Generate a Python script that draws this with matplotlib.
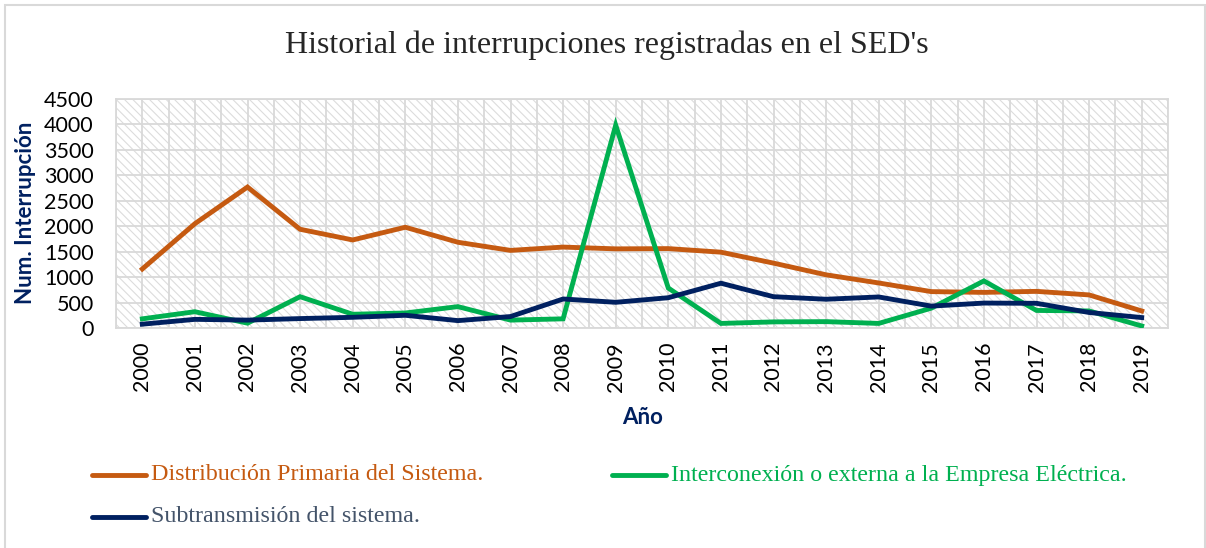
import matplotlib
matplotlib.use("Agg")
import matplotlib.pyplot as plt
from matplotlib.patches import Rectangle
from matplotlib.lines import Line2D

years = [str(y) for y in range(2000, 2020)]
distribucion = [1160, 2050, 2770, 1940, 1730, 1980, 1685, 1525, 1590, 1555,
                1560, 1490, 1275, 1045, 885, 715, 700, 720, 650, 335]
interconexion = [180, 320, 95, 615, 270, 295, 420, 155, 180, 3985,
                 785, 90, 120, 125, 90, 390, 925, 345, 335, 40]
subtransmision = [75, 170, 155, 185, 210, 250, 145, 225, 570, 505,
                  595, 880, 615, 565, 610, 430, 490, 485, 305, 205]

series_names = ["Distribución Primaria del Sistema.",
                "Interconexión o externa a la Empresa Eléctrica.",
                "Subtransmisión del sistema."]
colors = ["#C55A11", "#00B050", "#002060"]
legend_text_colors = ["#C55A11", "#00B050", "#44546A"]

W, H = 1206, 548
fig = plt.figure(figsize=(W / 100, H / 100), dpi=100)
plt.rcParams['hatch.linewidth'] = 0.8
plt.rcParams['hatch.color'] = '#dcdcdc'

# outer chart frame
fig.patches.append(Rectangle((5 / W, -0.05), 1200 / W, 1 - 5 / H + 0.05,
                             transform=fig.transFigure, facecolor='none',
                             edgecolor='#d9d9d9', lw=1.5))

left, right, top, bottom = 116, 1168, 99, 328
ax = fig.add_axes([left / W, 1 - bottom / H, (right - left) / W, (bottom - top) / H])
ax.set_facecolor('white')
ax.add_patch(Rectangle((0, 0), 1, 1, transform=ax.transAxes, facecolor='white',
                       edgecolor='#dcdcdc', hatch='\\\\\\\\', lw=0, zorder=0))

x = list(range(len(years)))
for vals, c in zip([distribucion, interconexion, subtransmision], colors):
    ax.plot(x, vals, color=c, lw=3.5, solid_joinstyle='miter', zorder=3)

ax.set_xlim(-0.5, len(years) - 0.5)
ax.set_ylim(0, 4500)
ax.set_yticks(range(0, 4501, 500))
ax.set_xticks(x)
ax.set_xticklabels(years, rotation=90, fontsize=15.5, family='Lato')
for lab in ax.get_yticklabels():
    lab.set_family('Lato')
    lab.set_fontsize(15.5)
ax.set_xticks([i + 0.5 for i in range(-1, len(years))], minor=True)
ax.tick_params(axis='y', length=0, pad=16)
ax.tick_params(axis='x', which='major', length=0, pad=10)
ax.tick_params(axis='x', which='minor', length=0)
ax.grid(True, which='both', color='#d9d9d9', lw=1.3, zorder=1)
ax.set_axisbelow(True)
for s in ax.spines.values():
    s.set_color('#d9d9d9')
    s.set_linewidth(1.3)

fig.text(607 / W, 1 - 45 / H, "Historial de interrupciones registradas en el SED's",
         ha='center', va='center', fontsize=23, family='Liberation Serif', color='#262626')
fig.text(26 / W, 1 - 213 / H, "Num. Interrupción", rotation=90, ha='center', va='center',
         fontsize=16, family='Lato', fontweight='bold', color='#002060')
fig.text(643 / W, 1 - 417 / H, "Año", ha='center', va='center',
         fontsize=16, family='Lato', fontweight='bold', color='#002060')

# legend
leg_pos = [(92, 475), (612, 475), (92, 517)]
for (lx, ly), name, c, tc in zip(leg_pos, series_names, colors, legend_text_colors):
    fig.add_artist(Line2D([lx / W, (lx + 54) / W], [1 - ly / H, 1 - ly / H],
                          transform=fig.transFigure, color=c, lw=3.5,
                          solid_capstyle='round'))
    fig.text((lx + 59) / W, 1 - ly / H, name, ha='left', va='center',
             fontsize=17.3, family='Liberation Serif', color=tc)

fig.savefig("out.png", dpi=100)
